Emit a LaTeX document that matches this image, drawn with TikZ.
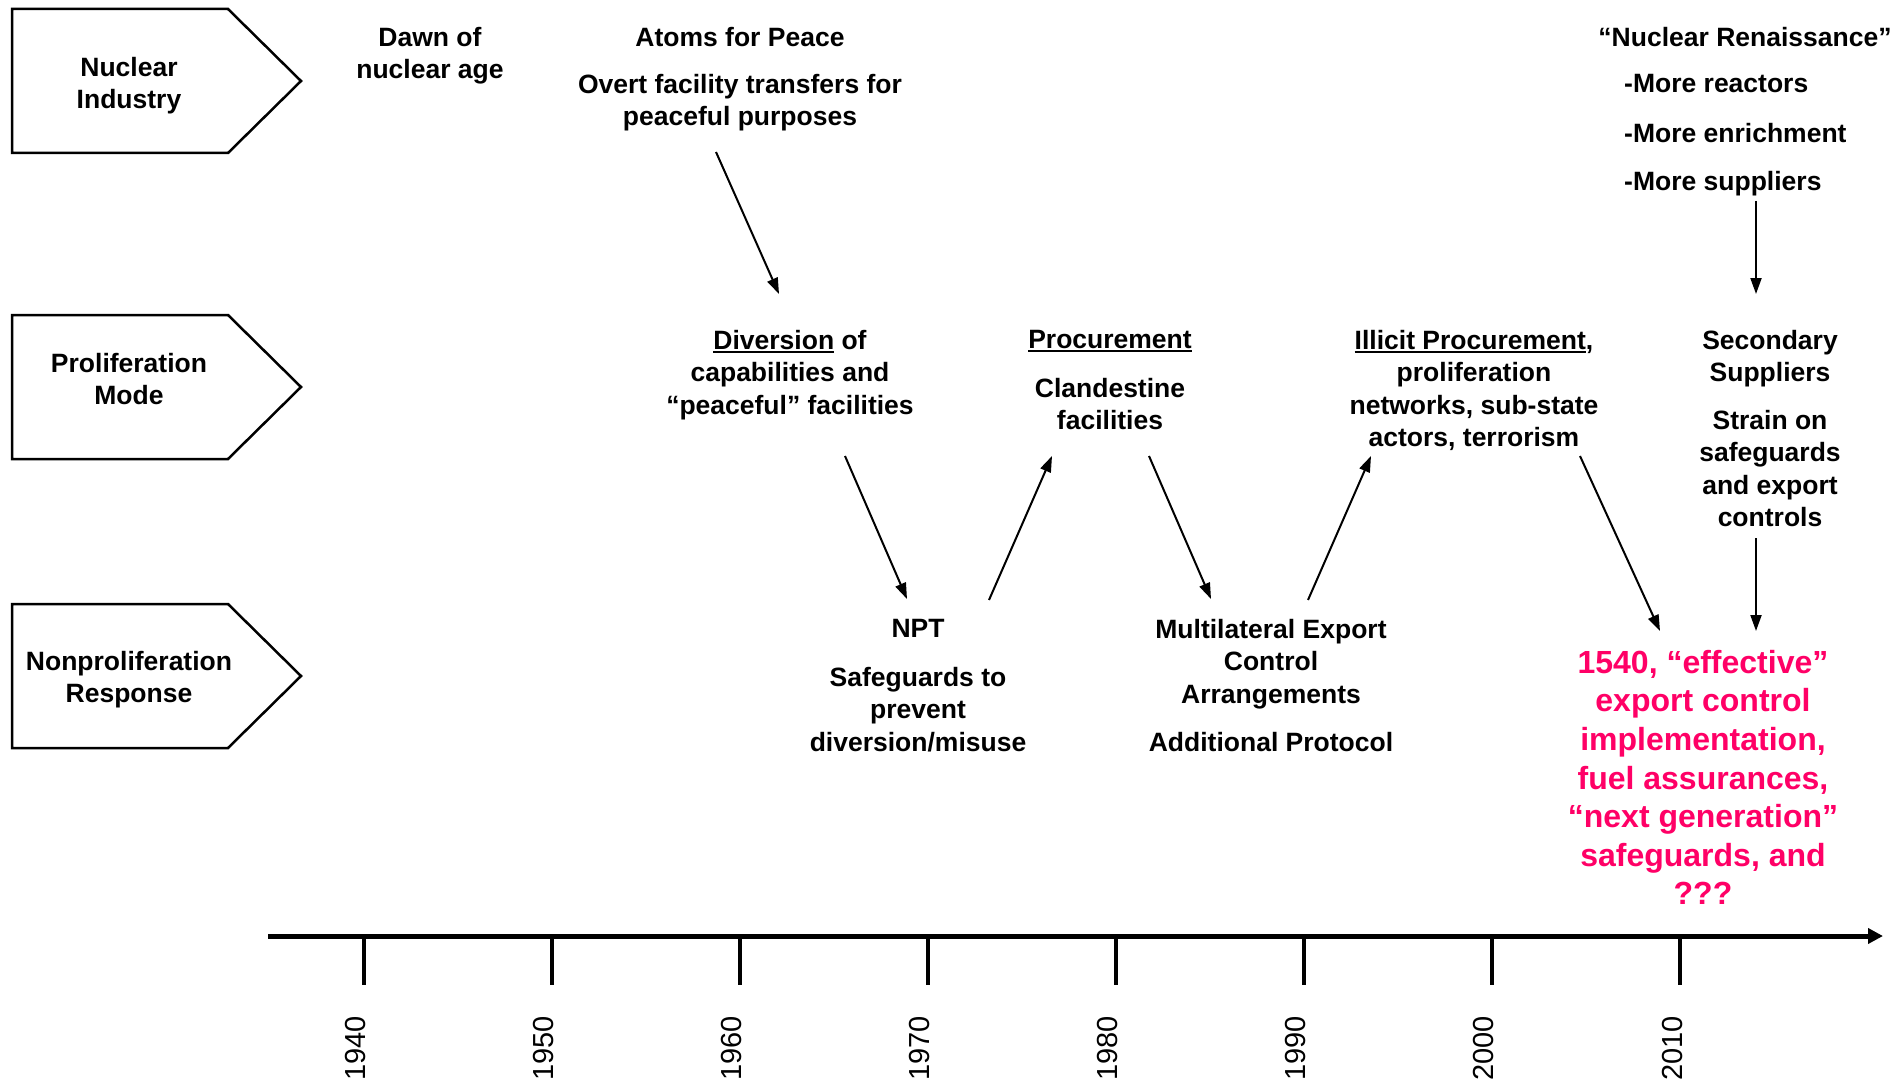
\documentclass[tikz,border=0pt]{standalone}
\usepackage{fontspec}
\setmainfont{Liberation Sans}
\usetikzlibrary{arrows.meta}
\definecolor{hotpink}{RGB}{255,0,102}
\newcommand{\uln}[1]{\leavevmode\setbox0\hbox{#1}\rlap{\rule[-4pt]{\wd0}{2.2pt}}\box0}
\begin{document}
\begin{tikzpicture}[x=1pt,y=-1pt,
  txt/.style={font=\bfseries\fontsize{26.5}{32.5}\selectfont, align=center, inner sep=0pt, anchor=north},
  redtxt/.style={font=\bfseries\fontsize{32}{38.6}\selectfont, align=center, inner sep=0pt, anchor=north, text=hotpink},
  conn/.style={line width=2pt, -{Triangle[length=16pt,width=11pt]}},
  pent/.style={line width=2.5pt, line join=miter},
  yearlbl/.style={font=\fontsize{29}{29}\selectfont, rotate=90, anchor=east, inner sep=0pt}
]
\useasboundingbox (0,0) rectangle (1904,1086);

% category arrows
\draw[pent] (12,9) -- (228,9) -- (301,81) -- (228,153) -- (12,153) -- cycle;
\draw[pent] (12,315) -- (228,315) -- (301,387) -- (228,459) -- (12,459) -- cycle;
\draw[pent] (12,604) -- (228,604) -- (301,676) -- (228,748) -- (12,748) -- cycle;
\node[txt] (ni) at (129,57) {Nuclear\\Industry};
\node[txt] (pm) at (129,353) {Proliferation\\Mode};
\node[txt] (nr) at (129,651) {Nonproliferation\\Response};

% texts
\node[txt] (dawn) at (430,27) {Dawn of\\nuclear age};
\node[txt] (atoms) at (740,27) {Atoms for Peace};
\node[txt] (overt) at (740,74) {Overt facility transfers for\\peaceful purposes};
\node[txt] (div) at (790,330) {\uln{Diversion}\ of\\capabilities and\\“peaceful” facilities};
\node[txt] (npt) at (918,619) {NPT};
\node[txt] (sg) at (918,667) {Safeguards to\\prevent\\diversion/misuse};
\node[txt] (proc) at (1110,330) {\uln{Procurement}};
\node[txt] (cland) at (1110,378) {Clandestine\\facilities};
\node[txt] (mea) at (1271,619) {Multilateral Export\\Control\\Arrangements};
\node[txt] (ap) at (1271,732) {Additional Protocol};
\node[txt] (illicit) at (1474,330) {\uln{Illicit Procurement},\\proliferation\\networks, sub-state\\actors, terrorism};
\node[txt] (ren) at (1745,27) {“Nuclear Renaissance”};
\node[txt, anchor=north west] (r1) at (1624,74) {-More reactors};
\node[txt, anchor=north west] (r2) at (1624,123) {-More enrichment};
\node[txt, anchor=north west] (r3) at (1624,171) {-More suppliers};
\node[txt] (sec) at (1770,330) {Secondary\\Suppliers};
\node[txt] (strain) at (1770,410) {Strain on\\safeguards\\and export\\controls};
\node[redtxt] (resp) at (1703,650) {1540, “effective”\\export control\\implementation,\\fuel assurances,\\“next generation”\\safeguards, and\\???};

% connector end points
\coordinate (a1s) at (716,152);  \coordinate (a1e) at (779,294);
\coordinate (a2s) at (845,456);  \coordinate (a2e) at (907,599);
\coordinate (a3s) at (989,600);  \coordinate (a3e) at (1052,456);
\coordinate (a4s) at (1149,456); \coordinate (a4e) at (1211,599);
\coordinate (a5s) at (1308,600); \coordinate (a5e) at (1371,456);
\coordinate (a6s) at (1580,456); \coordinate (a6e) at (1660,631);
\coordinate (a7s) at (1756,201); \coordinate (a7e) at (1756,294);
\coordinate (a8s) at (1756,538); \coordinate (a8e) at (1756,631);
\foreach \k in {1,...,8} {\draw[conn] (a\k s) -- (a\k e);}

% time axis
\coordinate (ax0) at (268,936);
\coordinate (ax1) at (1883,936);
\draw[line width=5pt, -{Triangle[length=15pt,width=15pt]}] (ax0) -- (ax1);
\foreach \yr [count=\i from 0] in {1940,1950,1960,1970,1980,1990,2000,2010} {
  \draw[line width=4pt] ({364+188*\i},936) -- ({364+188*\i},985);
  \node[yearlbl] (y\yr) at ({356+188*\i},1016) {\yr};
}
\end{tikzpicture}
\end{document}
